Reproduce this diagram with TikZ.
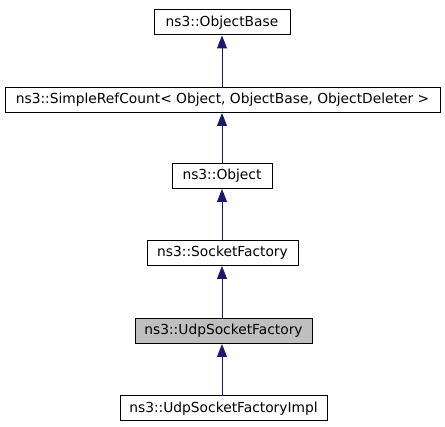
\documentclass[tikz,border=0pt]{standalone}
\usepackage{fontspec}
\setmainfont{DejaVu Sans}
\usetikzlibrary{arrows.meta}
\definecolor{navy}{RGB}{25,25,112}
\definecolor{hlgray}{RGB}{191,191,191}
\tikzset{
  cls/.style={draw=black, fill=white, line width=1pt, minimum height=25pt, inner sep=0pt, font=\fontsize{13.8pt}{15pt}\selectfont},
  inh/.style={draw=navy, line width=1pt, -{Triangle[width=10pt,length=13pt,fill=navy]}}
}
\begin{document}
\begin{tikzpicture}[x=1pt,y=-1pt]
\useasboundingbox (0,0) rectangle (445,427);
\node[cls, minimum width=136pt] (ob) at (222,22.5) {ns3::ObjectBase};
\node[cls, minimum width=435pt] (src) at (222.5,100) {ns3::SimpleRefCount< Object, ObjectBase, ObjectDeleter >};
\node[cls, minimum width=100pt] (obj) at (222,176) {ns3::Object};
\node[cls, minimum width=151pt] (sf) at (222.5,253) {ns3::SocketFactory};
\node[cls, minimum width=177pt, fill=hlgray] (usf) at (223.5,331) {ns3::UdpSocketFactory};
\node[cls, minimum width=207pt] (usfi) at (223.5,408.5) {ns3::UdpSocketFactoryImpl};
\draw[inh] (src.north -| ob) -- (ob.south);
\draw[inh] (obj.north) -- (src.south -| obj);
\draw[inh] (sf.north -| obj) -- (obj.south);
\draw[inh] (usf.north -| obj) -- (sf.south -| obj);
\draw[inh] (usfi.north -| obj) -- (usf.south -| obj);
\end{tikzpicture}
\end{document}
